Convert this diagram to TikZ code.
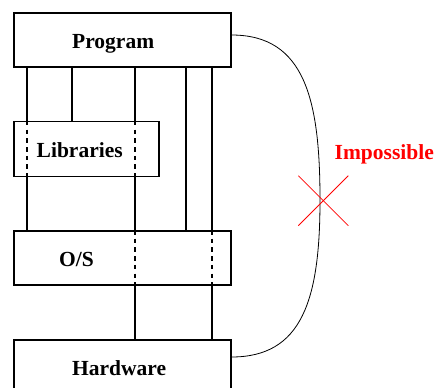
\documentclass[tikz,border=0pt]{standalone}
\usepackage{fontspec}
\setmainfont{Liberation Serif}
\begin{document}
\begin{tikzpicture}[x=1pt,y=-1pt,
  box/.style={draw,line width=1.5pt,rectangle,inner sep=0pt,anchor=north west},
  lbl/.style={anchor=base west,inner sep=0pt,font=\fontsize{21.5}{25}\selectfont\bfseries},
  conn/.style={line width=1.4pt},
  dconn/.style={line width=1.4pt,dash pattern=on 4.5pt off 4.2pt},
  thin/.style={line width=0.8pt}]
\useasboundingbox (0,0) rectangle (435,387);
\node[box,minimum width=217pt,minimum height=54pt] (prog) at (13,12.5) {};
\node[box,minimum width=145pt,minimum height=54.5pt] (lib) at (13,121) {};
\node[box,minimum width=217pt,minimum height=54pt] (os) at (13,230) {};
\node[box,minimum width=217pt,minimum height=54pt] (hw) at (13,339) {};
\node[lbl] (tprog) at (72,48.3) {Program};
\node[lbl] (tlib) at (36.5,157.3) {Libraries};
\node[lbl] (tos) at (59,266.7) {O/S};
\node[lbl] (thw) at (72,375) {Hardware};
\node[lbl,text=red] (timp) at (334.5,160) {Impossible};
\coordinate (c1) at (27,0);
\coordinate (c2) at (72,0);
\coordinate (c3) at (135,0);
\coordinate (c4) at (186,0);
\coordinate (c5) at (212,0);
% line 1
\draw[conn] (prog.south -| c1) -- (lib.north -| c1);
\draw[dconn] (lib.north -| c1) -- (lib.south -| c1);
\draw[conn] (lib.south -| c1) -- (os.north -| c1);
% line 2
\draw[conn] (prog.south -| c2) -- (lib.north -| c2);
% line 3
\draw[conn] (prog.south -| c3) -- (lib.north -| c3);
\draw[dconn] (lib.north -| c3) -- (lib.south -| c3);
\draw[conn] (lib.south -| c3) -- (os.north -| c3);
\draw[dconn] (os.north -| c3) -- (os.south -| c3);
\draw[conn] (os.south -| c3) -- (hw.north -| c3);
% line 4
\draw[conn] (prog.south -| c4) -- (os.north -| c4);
% line 5
\draw[conn] (prog.south -| c5) -- (os.north -| c5);
\draw[dconn] (os.north -| c5) -- (os.south -| c5);
\draw[conn] (os.south -| c5) -- (hw.north -| c5);
% curve
\coordinate (pr) at ([yshift=-22.5pt]prog.north east);
\coordinate (hr) at ([yshift=-18pt]hw.north east);
\coordinate (mid) at (320,200);
\draw[thin] (pr) .. controls (305,35) and (320,100) .. (mid)
  .. controls (320,300) and (302,357) .. (hr);
% cross
\coordinate (x1) at (298.3,175.7);
\coordinate (x2) at (348.3,225.7);
\coordinate (x3) at (298.3,225.7);
\coordinate (x4) at (348.3,175.7);
\draw[thin,red] (x1) -- (x2);
\draw[thin,red] (x3) -- (x4);
\end{tikzpicture}
\end{document}
